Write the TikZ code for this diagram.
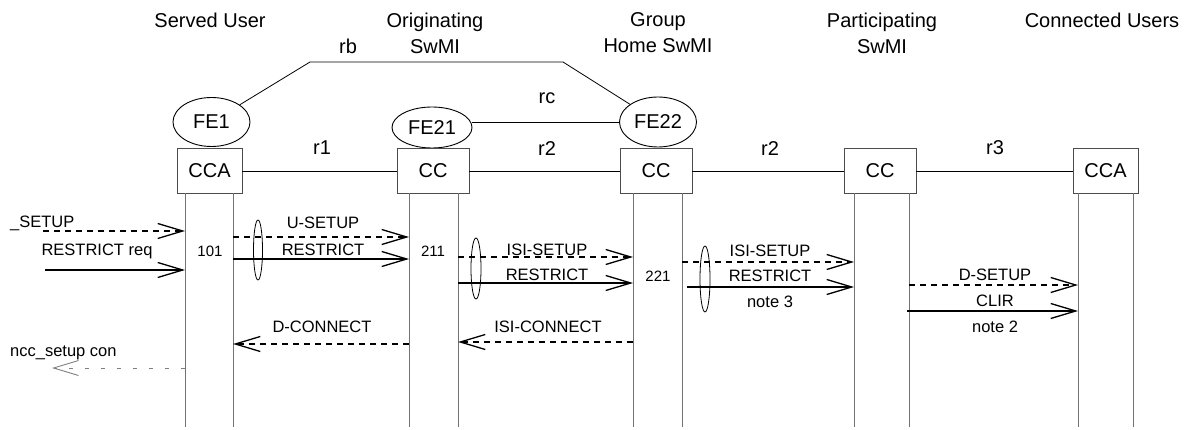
\documentclass[tikz,border=0pt]{standalone}
\usepackage{fontspec}
\setmainfont{Liberation Sans}
\usetikzlibrary{arrows.meta,shapes.geometric}
\begin{document}
\begin{tikzpicture}[x=1pt,y=-1pt,
 head/.style={font=\fontsize{20}{26}\selectfont, align=center, inner sep=0pt},
 rlbl/.style={font=\fontsize{20}{24}\selectfont, inner sep=0pt},
 box/.style={draw=black!70, line width=0.9pt, minimum width=65pt, minimum height=45pt, inner sep=0pt, font=\fontsize{20}{24}\selectfont},
 fe/.style={draw, ellipse, line width=0.9pt, minimum width=77pt, minimum height=49pt, inner sep=0pt, font=\fontsize{20}{24}\selectfont},
 lbl/.style={font=\fontsize{16.5}{20}\selectfont, inner sep=0pt},
 num/.style={font=\fontsize{15}{18}\selectfont, inner sep=0pt},
 life/.style={draw=black!55, line width=1pt},
 link/.style={line width=0.8pt},
 msg/.style={line width=1.5pt, -{Straight Barb[length=25pt,width=15pt,line width=1.3pt]}},
 dmsg/.style={msg, dash pattern=on 6pt off 5pt},
 gmsg/.style={draw=black!50, line width=0.9pt, dash pattern=on 4pt off 12pt, -{Straight Barb[length=25pt,width=15pt,line width=0.9pt]}},
 grp/.style={draw, ellipse, line width=0.8pt, minimum width=9pt, minimum height=60pt, inner sep=0pt},
]
\useasboundingbox (0,0) rectangle (1191,430);

% headings
\node[head] (h1) at (210,20) {Served User};
\node[head] (h2) at (435,33) {Originating\\SwMI};
\node[head] (h3) at (658,33) {Group\\Home SwMI};
\node[head] (h4) at (882,33) {Participating\\SwMI};
\node[head] (h5) at (1102,20) {Connected Users};

% functional entities
\node[fe] (FE1) at (211.5,122) {FE1};
\node[fe, minimum width=80pt, minimum height=41pt] (FE21) at (432,127.5) {FE21};
\node[fe, minimum height=50pt] (FE22) at (658,122) {FE22};

% boxes
\node[box] (CCA1) at (209.5,171) {CCA};
\node[box, minimum width=72pt] (CC2) at (433,171) {CC};
\node[box, minimum width=72pt] (CC3) at (656,171) {CC};
\node[box, minimum width=72pt] (CC4) at (880,171) {CC};
\node[box] (CCA5) at (1105.5,171) {CCA};

% relations
\coordinate (rb1) at (310,62);
\coordinate (rb2) at (563,62);
\draw[link] (FE1) -- (rb1) -- (rb2) -- (FE22);
\draw[link] (FE21.east |- FE22.west) -- (FE22.west);
\draw[link] (CCA1.east) -- (CC2.west);
\draw[link] (CC2.east) -- (CC3.west);
\draw[link] (CC3.east) -- (CC4.west);
\draw[link] (CC4.east) -- (CCA5.west);
\node[rlbl] (lrb) at (348,46) {rb};
\node[rlbl] (lrc) at (547,98) {rc};
\node[rlbl] (lr1) at (322,148) {r1};
\node[rlbl] (lr2a) at (547,149) {r2};
\node[rlbl] (lr2b) at (770,149) {r2};
\node[rlbl] (lr3) at (995,148) {r3};

% lifelines
\foreach \x in {185,233,409,458,633,682,854,909,1078,1133}
  \draw[life] (\x,193.5) -- (\x,427);

% endpoints
\coordinate (s1) at (43,231);  \coordinate (e1) at (185,231);
\coordinate (s2) at (45,270);  \coordinate (e2) at (185,270);
\coordinate (s3) at (233,237); \coordinate (e3) at (409,237);
\coordinate (s4) at (233,259); \coordinate (e4) at (409,259);
\coordinate (s5) at (458,257); \coordinate (e5) at (633,257);
\coordinate (s6) at (458,283); \coordinate (e6) at (633,283);
\coordinate (s7) at (682,262); \coordinate (e7) at (854,262);
\coordinate (s8) at (687,287); \coordinate (e8) at (854,287);
\coordinate (s9) at (909,285); \coordinate (e9) at (1078,285);
\coordinate (s10) at (907,311); \coordinate (e10) at (1078,311);
\coordinate (s11) at (409,344); \coordinate (e11) at (233,344);
\coordinate (s12) at (633,342); \coordinate (e12) at (458,342);
\coordinate (s13) at (185,368); \coordinate (e13) at (52,368);

% messages
\draw[dmsg] (s1) -- (e1);
\draw[msg] (s2) -- (e2);
\draw[dmsg] (s3) -- (e3);
\draw[msg] (s4) -- (e4);
\draw[dmsg] (s5) -- (e5);
\draw[msg] (s6) -- (e6);
\draw[dmsg] (s7) -- (e7);
\draw[msg] (s8) -- (e8);
\draw[dmsg] (s9) -- (e9);
\draw[msg] (s10) -- (e10);
\draw[dmsg] (s11) -- (e11);
\draw[dmsg] (s12) -- (e12);
\draw[gmsg] (s13) -- (e13);

% grouping ellipses
\node[grp] (g1) at (258,250) {};
\node[grp, minimum width=10pt, minimum height=61pt] (g2) at (476,268.5) {};
\node[grp, minimum width=10pt, minimum height=66pt] (g3) at (705,279) {};

% labels
\node[lbl, anchor=west] (t1) at (10,223) {\_SETUP};
\node[lbl] (t2) at (97,251) {RESTRICT req};
\node[num] (n101) at (210,251) {101};
\node[lbl] (t3) at (323,223) {U-SETUP};
\node[lbl] (t4) at (323,250) {RESTRICT};
\node[num] (n211) at (433,251) {211};
\node[lbl] (t5) at (547,250) {ISI-SETUP};
\node[lbl] (t6) at (547,275) {RESTRICT};
\node[num] (n221) at (658,276) {221};
\node[lbl] (t7) at (770,251) {ISI-SETUP};
\node[lbl] (t8) at (770,276) {RESTRICT};
\node[lbl] (t9) at (770,302) {note 3};
\node[lbl] (t10) at (995,275) {D-SETUP};
\node[lbl] (t11) at (995,301) {CLIR};
\node[lbl] (t12) at (995,327) {note 2};
\node[lbl] (t13) at (322,327) {D-CONNECT};
\node[lbl] (t14) at (548,327) {ISI-CONNECT};
\node[lbl, anchor=west] (t15) at (10,353) {ncc\_setup con};
\end{tikzpicture}
\end{document}
